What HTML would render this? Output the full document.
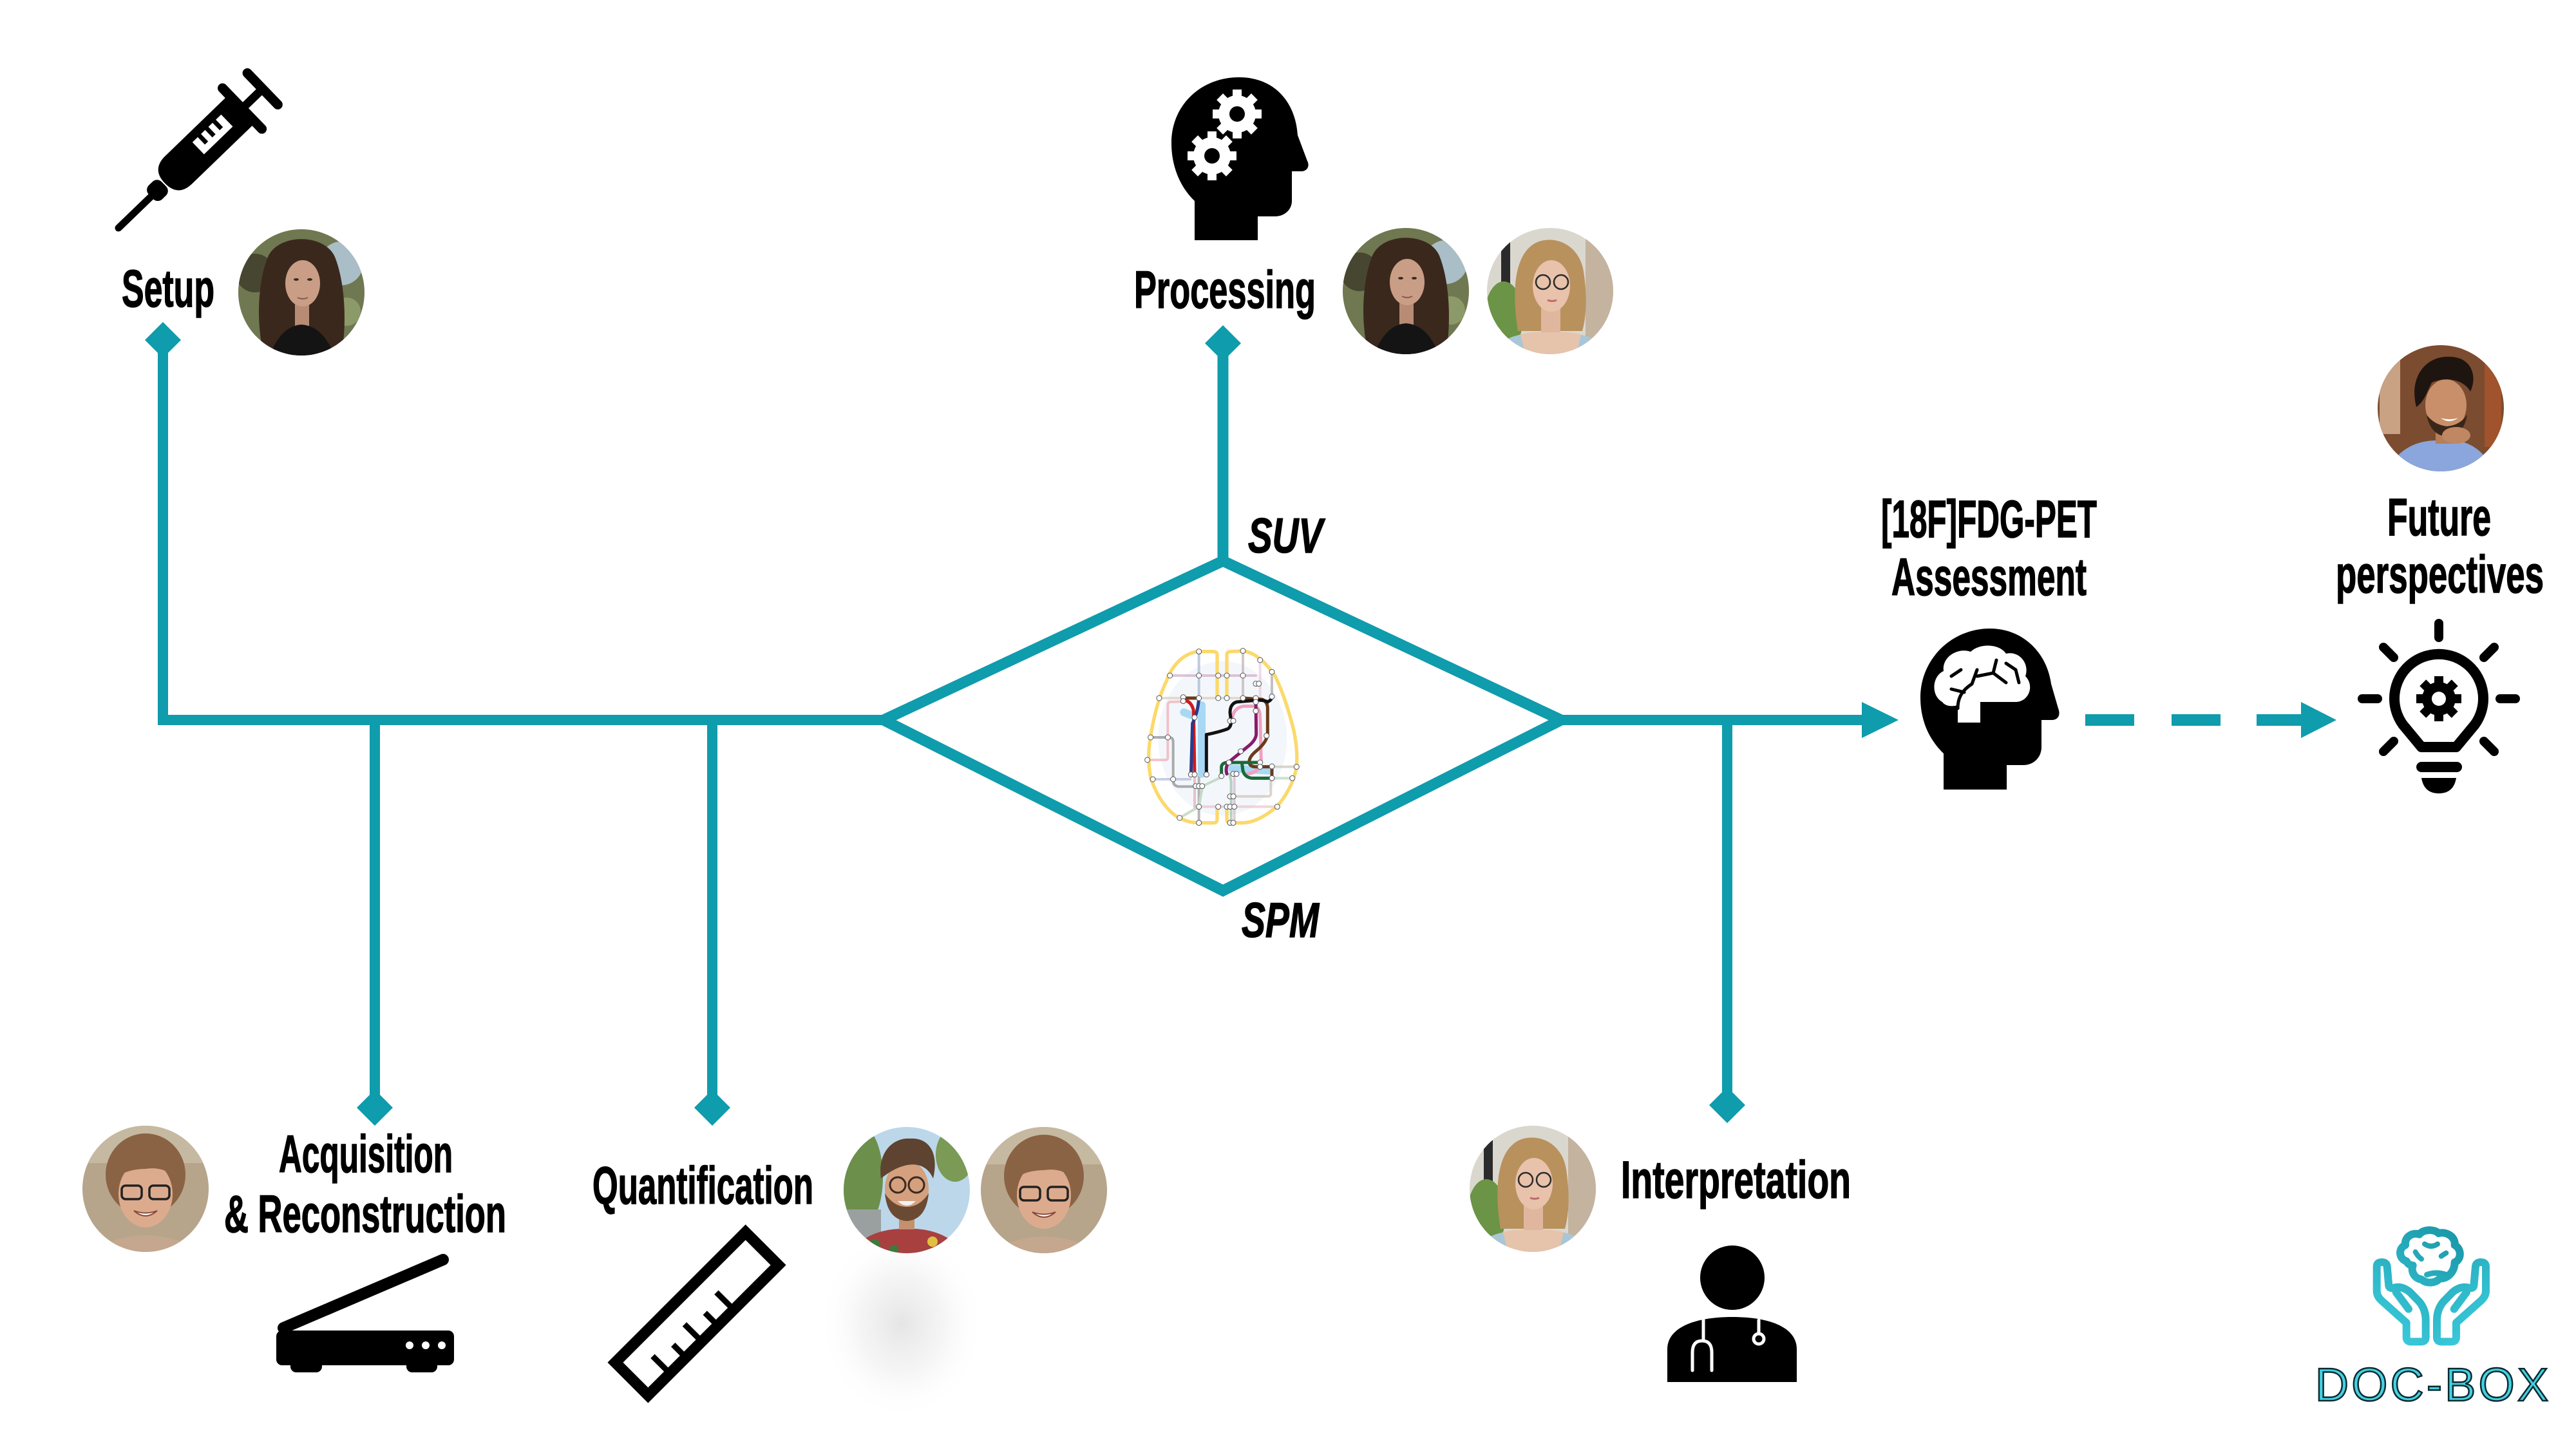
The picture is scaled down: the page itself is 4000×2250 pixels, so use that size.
<!DOCTYPE html>
<html><head><meta charset="utf-8"><style>
html,body{margin:0;padding:0;background:#fff;}
svg{display:block;}
.lbl{font-family:"Liberation Sans Narrow","Liberation Sans",sans-serif;font-weight:bold;font-size:82px;fill:#000;stroke:#000;stroke-width:1.5px;}
.it{font-family:"Liberation Sans Narrow","Liberation Sans",sans-serif;font-weight:bold;font-style:italic;font-size:76px;fill:#000;stroke:#000;stroke-width:1.5px;}
</style></head><body>
<svg width="4000" height="2250" viewBox="0 0 4000 2250" xmlns="http://www.w3.org/2000/svg">
<defs>
<clipPath id="cp"><circle cx="0" cy="0" r="98"/></clipPath>
<radialGradient id="shadow" cx="0.5" cy="0.5" r="0.5">
<stop offset="0" stop-color="#e2e2e2" stop-opacity="0.9"/>
<stop offset="0.5" stop-color="#eeeeee" stop-opacity="0.6"/>
<stop offset="1" stop-color="#ffffff" stop-opacity="0"/>
</radialGradient>
<linearGradient id="tealg" gradientUnits="userSpaceOnUse" x1="900" y1="150" x2="450" y2="720">
<stop offset="0" stop-color="#148f9f"/>
<stop offset="1" stop-color="#3dcfe0"/>
</linearGradient>

<g id="faceA"><g clip-path="url(#cp)">
<rect x="-100" y="-100" width="200" height="200" fill="#6f7850"/>
<circle cx="62" cy="-45" r="34" fill="#a9bec6"/>
<circle cx="-72" cy="-30" r="30" fill="#474631"/>
<circle cx="70" cy="30" r="22" fill="#8c9a6a"/>
<path d="M-58,100 C-72,40 -66,-20 -52,-55 C-36,-92 36,-92 52,-55 C66,-20 72,40 62,100 Z" fill="#3a281d"/>
<rect x="-10" y="18" width="22" height="40" fill="#b88b74"/>
<ellipse cx="2" cy="-14" rx="27" ry="36" fill="#c99d86"/>
<ellipse cx="-8" cy="-20" rx="4" ry="2" fill="#3a2a20"/>
<ellipse cx="13" cy="-20" rx="4" ry="2" fill="#3a2a20"/>
<path d="M-6,8 Q2,12 10,8" stroke="#8a5a4a" stroke-width="2" fill="none"/>
<path d="M-50,100 Q-32,52 0,50 Q34,52 52,100 Z" fill="#141414"/>
</g></g>

<g id="faceB"><g clip-path="url(#cp)">
<rect x="-100" y="-100" width="200" height="200" fill="#dad7ce"/>
<rect x="55" y="-100" width="50" height="200" fill="#c4b39e"/>
<rect x="-76" y="-80" width="14" height="180" fill="#2b2b2b"/>
<ellipse cx="-72" cy="40" rx="30" ry="55" fill="#6b9446"/>
<path d="M-50,62 C-60,0 -56,-60 -20,-76 C10,-88 46,-70 52,-30 C58,10 56,40 50,62 Z" fill="#b8915d"/>
<rect x="-14" y="22" width="30" height="50" fill="#e0b79e"/>
<ellipse cx="2" cy="-8" rx="29" ry="40" fill="#e8c2aa"/>
<path d="M-95,100 Q-62,62 -16,64 L18,64 Q62,62 95,100 Z" fill="#e6c3ab"/>
<path d="M-95,100 Q-75,72 -46,68 L-38,100 Z" fill="#a9c6d6"/>
<path d="M95,100 Q75,72 48,68 L40,100 Z" fill="#a9c6d6"/>
<circle cx="-11" cy="-14" r="11" fill="none" stroke="#2a2a2a" stroke-width="2.5"/>
<circle cx="17" cy="-14" r="11" fill="none" stroke="#2a2a2a" stroke-width="2.5"/>
<path d="M-4,14 Q3,17 10,14" stroke="#c06a6a" stroke-width="3" fill="none"/>
</g></g>

<g id="faceC"><g clip-path="url(#cp)">
<rect x="-100" y="-100" width="200" height="200" fill="#7b4c30"/>
<rect x="-95" y="-80" width="32" height="120" fill="#c9a283"/>
<rect x="68" y="-90" width="26" height="150" fill="#a0532c"/>
<path d="M-85,100 Q-62,52 -10,50 L22,50 Q62,54 85,100 Z" fill="#8aa6dc"/>
<rect x="-8" y="25" width="30" height="30" fill="#b57e5c"/>
<ellipse cx="8" cy="-5" rx="32" ry="40" fill="#c88f6a"/>
<path d="M-38,-2 C-50,-50 -22,-82 14,-80 C46,-80 58,-52 46,-26 C36,-44 10,-50 -14,-40 C-22,-24 -26,-10 -38,-2 Z" fill="#1e1510"/>
<path d="M-22,10 Q-16,42 10,44 Q36,42 41,10 Q30,26 10,28 Q-10,26 -22,10 Z" fill="#3a2618"/>
<path d="M0,15 Q13,25 27,15 Q13,19 0,15 Z" fill="#fff"/>
<ellipse cx="24" cy="42" rx="22" ry="13" fill="#c08763"/>
</g></g>

<g id="faceD"><g clip-path="url(#cp)">
<rect x="-100" y="-100" width="200" height="200" fill="#b6a58b"/>
<rect x="-100" y="-100" width="200" height="60" fill="#c6b9a1"/>
<ellipse cx="0" cy="-22" rx="62" ry="64" fill="#8a6344"/>
<path d="M-95,100 Q-52,74 0,72 Q52,74 95,100 Z" fill="#c4a78e"/>
<ellipse cx="0" cy="8" rx="42" ry="52" fill="#dcab8d"/>
<path d="M-46,-18 Q-32,-56 5,-56 Q42,-56 49,-14 Q30,-36 0,-31 Q-26,-31 -46,-18 Z" fill="#8a6344"/>
<rect x="-37" y="-5" width="31" height="21" rx="6" fill="none" stroke="#222" stroke-width="3.5"/>
<rect x="6" y="-5" width="31" height="21" rx="6" fill="none" stroke="#222" stroke-width="3.5"/>
<path d="M-18,34 Q0,50 18,34 Q0,41 -18,34 Z" fill="#fff" stroke="#8a4a3a" stroke-width="2"/>
</g></g>

<g id="faceE"><g clip-path="url(#cp)">
<rect x="-100" y="-100" width="200" height="200" fill="#bcd7ea"/>
<ellipse cx="-72" cy="-20" rx="35" ry="80" fill="#6c8f4b"/>
<ellipse cx="75" cy="-55" rx="30" ry="42" fill="#7a9a55"/>
<rect x="-100" y="30" width="60" height="70" fill="#9aa0a0"/>
<path d="M-92,100 Q-60,58 0,60 Q60,58 92,100 Z" fill="#a84040"/>
<circle cx="-50" cy="85" r="9" fill="#3e7a3a"/><circle cx="40" cy="80" r="8" fill="#e0c040"/><circle cx="-20" cy="92" r="7" fill="#3e7a3a"/><circle cx="60" cy="92" r="8" fill="#2e6a8a"/>
<rect x="-12" y="25" width="24" height="36" fill="#c4906e"/>
<ellipse cx="0" cy="-2" rx="34" ry="44" fill="#d4a07e"/>
<path d="M-40,-18 C-46,-60 -20,-82 5,-80 C36,-82 50,-56 41,-18 C30,-44 0,-50 -40,-18 Z" fill="#5e4330"/>
<path d="M-34,5 Q-30,46 0,48 Q30,46 34,5 Q20,26 0,26 Q-20,26 -34,5 Z" fill="#6b4a33"/>
<path d="M-14,17 Q0,31 14,17 Z" fill="#f2f2f2"/>
<circle cx="-14" cy="-8" r="12" fill="none" stroke="#3a2a20" stroke-width="3"/>
<circle cx="15" cy="-8" r="12" fill="none" stroke="#3a2a20" stroke-width="3"/>
</g></g>

<g id="gearW" fill="#fff">
<circle r="29"/>
<g><rect x="-7" y="-38" width="14" height="14"/><rect x="-7" y="-38" width="14" height="14" transform="rotate(45)"/><rect x="-7" y="-38" width="14" height="14" transform="rotate(90)"/><rect x="-7" y="-38" width="14" height="14" transform="rotate(135)"/><rect x="-7" y="-38" width="14" height="14" transform="rotate(180)"/><rect x="-7" y="-38" width="14" height="14" transform="rotate(225)"/><rect x="-7" y="-38" width="14" height="14" transform="rotate(270)"/><rect x="-7" y="-38" width="14" height="14" transform="rotate(315)"/></g>
<circle r="12" fill="#000"/>
</g>
<g id="gearB" fill="#000">
<circle r="26"/>
<g><rect x="-7" y="-35" width="14" height="13"/><rect x="-7" y="-35" width="14" height="13" transform="rotate(45)"/><rect x="-7" y="-35" width="14" height="13" transform="rotate(90)"/><rect x="-7" y="-35" width="14" height="13" transform="rotate(135)"/><rect x="-7" y="-35" width="14" height="13" transform="rotate(180)"/><rect x="-7" y="-35" width="14" height="13" transform="rotate(225)"/><rect x="-7" y="-35" width="14" height="13" transform="rotate(270)"/><rect x="-7" y="-35" width="14" height="13" transform="rotate(315)"/></g>
<circle r="11" fill="#fff"/>
</g>
</defs>

<rect width="4000" height="2250" fill="#fff"/>

<ellipse cx="1400" cy="2055" rx="130" ry="150" fill="url(#shadow)"/>

<g stroke="#0f9cac" fill="none" stroke-linejoin="miter">
<path d="M253,528 L253,1118 L1372,1118" stroke-width="16"/>
<line x1="582" y1="1118" x2="582" y2="1718" stroke-width="16"/>
<line x1="1106" y1="1118" x2="1106" y2="1718" stroke-width="16"/>
<line x1="1899" y1="533" x2="1899" y2="871" stroke-width="17"/>
<line x1="2424" y1="1118" x2="2896" y2="1118" stroke-width="16"/>
<line x1="2682" y1="1118" x2="2682" y2="1716" stroke-width="16"/>
<polygon points="1899,871 2424,1118 1899,1383 1372,1118" stroke-width="17"/>
<line x1="3238" y1="1118" x2="3314" y2="1118" stroke-width="18"/>
<line x1="3372" y1="1118" x2="3448" y2="1118" stroke-width="18"/>
<line x1="3504" y1="1118" x2="3578" y2="1118" stroke-width="18"/>
</g>
<g fill="#0f9cac">
<polygon points="2891,1090 2948,1118 2891,1146"/>
<polygon points="3573,1090 3628,1118 3573,1146"/>
<polygon points="253,500 281,528 253,556 225,528"/>
<polygon points="1899,505 1927,533 1899,561 1871,533"/>
<polygon points="582,1692 610,1720 582,1748 554,1720"/>
<polygon points="1106,1692 1134,1720 1106,1748 1078,1720"/>
<polygon points="2682,1688 2710,1716 2682,1744 2654,1716"/>
</g>

<g transform="translate(1750,980) scale(0.33333)" fill="none" stroke-linecap="round" stroke-linejoin="round">
<ellipse cx="445" cy="500" rx="300" ry="360" fill="#f3f7fb" stroke="none"/>
<g stroke-width="12" opacity="0.6">
<path d="M200,207 L600,207" stroke="#c8a0c0"/>
<path d="M335,95 L335,310" stroke="#9aa8c8"/>
<path d="M540,92 L540,310" stroke="#b8a8a0"/>
<path d="M620,135 L620,320" stroke="#f0c0d8"/>
<path d="M675,190 L675,300" stroke="#999"/>
<path d="M150,312 L260,312" stroke="#d8c8b8"/>
<path d="M335,312 L540,312" stroke="#d8c8b8" stroke-dasharray="4 4"/>
<path d="M262,328 L200,330 Q190,332 190,345 L190,590 Q190,600 178,600 L95,600" stroke="#f0a0a8"/>
<path d="M110,495 L195,495 Q215,495 215,515 L215,700 Q218,722 240,724 L330,724" stroke="#777"/>
<path d="M120,690 L295,690" stroke="#a8b0d0"/>
<path d="M315,668 L315,820" stroke="#e0a0a8"/>
<path d="M335,680 L335,893" stroke="#888"/>
<path d="M245,870 L335,818 L352,722 L440,680" stroke="#a8c8a8"/>
<path d="M335,818 L700,818" stroke="#e8b8c0"/>
<path d="M480,770 L655,770 Q670,770 670,755 L670,700" stroke="#c8b8a8"/>
<path d="M478,665 L485,700 L485,893" stroke="#88b898"/>
<path d="M500,665 L500,893" stroke="#d8a8c0"/>
<path d="M675,632 L790,632" stroke="#c8b8a8"/>
<path d="M675,685 L770,685" stroke="#a8d0b0"/>
</g>
<g stroke="#fbd96b" stroke-width="16">
<path d="M420,310 L420,110 Q420,95 400,95 L335,95 C260,100 205,170 185,230 C150,300 130,380 115,460 C100,540 95,600 110,680 C140,780 200,850 245,870 C280,890 310,893 335,893 L405,893 Q420,893 420,875 L420,820"/>
<path d="M465,310 L465,110 Q465,95 485,95 L540,92 C600,100 650,150 690,210 C720,270 740,330 760,400 C785,480 795,560 790,630 C780,700 740,770 700,815 C650,860 590,893 540,893 L480,893 Q465,893 465,875 L465,820"/>
</g>
<g stroke="#a8d8f4" stroke-width="36">
<path d="M348,345 L348,665"/>
<path d="M265,378 L300,392"/>
<path d="M490,640 L665,650"/>
</g>
<g stroke-width="15">
<path d="M490,420 Q490,360 540,350 L590,350 Q620,355 620,400 L625,600 Q620,660 560,665" stroke="#f0a0c0"/>
<path d="M260,312 L335,312 M540,312 L630,318 Q655,330 655,360 L655,480 Q650,520 600,560 Q565,590 570,615 Q575,632 600,632 L675,632 L675,685" stroke="#6b3a1a"/>
<path d="M370,668 L370,482 M485,418 L480,380 Q480,340 510,330 L600,322 Q640,320 655,330 Q675,320 675,305" stroke="#111"/>
<path d="M370,482 Q430,470 470,455 Q485,445 485,420" stroke="#111" stroke-dasharray="5 4"/>
<path d="M265,322 Q300,325 310,370 L315,668" stroke="#d01a1a"/>
<path d="M335,312 Q330,380 305,430 L298,668" stroke="#2a3a8a"/>
<path d="M600,320 L602,480 Q600,510 560,540 L480,605 Q455,630 465,665" stroke="#8a1a6a"/>
<path d="M440,680 L440,630 Q445,612 470,612 L620,612 M535,612 L540,650 Q548,680 580,685 L675,685" stroke="#1a6a3a"/>
</g>
<g fill="#fff" stroke="#555" stroke-width="3">
<circle cx="335" cy="95" r="12"/><circle cx="540" cy="92" r="12"/><circle cx="620" cy="135" r="12"/><circle cx="675" cy="190" r="12"/><circle cx="200" cy="207" r="12"/><circle cx="335" cy="207" r="12"/><circle cx="425" cy="207" r="12"/><circle cx="465" cy="207" r="12"/><circle cx="540" cy="207" r="12"/><circle cx="600" cy="245" r="12"/><circle cx="614" cy="245" r="12"/><circle cx="150" cy="312" r="12"/><circle cx="262" cy="308" r="12"/><circle cx="262" cy="326" r="12"/><circle cx="335" cy="312" r="12"/><circle cx="425" cy="312" r="12"/><circle cx="465" cy="312" r="12"/><circle cx="540" cy="312" r="12"/><circle cx="600" cy="312" r="12"/><circle cx="600" cy="330" r="12"/><circle cx="675" cy="305" r="12"/><circle cx="315" cy="402" r="12"/><circle cx="600" cy="372" r="12"/><circle cx="480" cy="418" r="12"/><circle cx="495" cy="418" r="12"/><circle cx="650" cy="487" r="12"/><circle cx="530" cy="560" r="12"/><circle cx="475" cy="612" r="12"/><circle cx="620" cy="612" r="12"/><circle cx="620" cy="632" r="12"/><circle cx="675" cy="630" r="12"/><circle cx="790" cy="632" r="12"/><circle cx="110" cy="495" r="12"/><circle cx="190" cy="495" r="12"/><circle cx="95" cy="600" r="12"/><circle cx="120" cy="690" r="12"/><circle cx="215" cy="690" r="12"/><circle cx="298" cy="668" r="12"/><circle cx="315" cy="668" r="12"/><circle cx="370" cy="668" r="12"/><circle cx="440" cy="675" r="12"/><circle cx="495" cy="665" r="12"/><circle cx="510" cy="665" r="12"/><circle cx="675" cy="685" r="12"/><circle cx="770" cy="685" r="12"/><circle cx="320" cy="722" r="12"/><circle cx="335" cy="722" r="12"/><circle cx="350" cy="722" r="12"/><circle cx="480" cy="770" r="12"/><circle cx="495" cy="770" r="12"/><circle cx="335" cy="818" r="12"/><circle cx="425" cy="818" r="12"/><circle cx="465" cy="818" r="12"/><circle cx="480" cy="818" r="12"/><circle cx="500" cy="818" r="12"/><circle cx="700" cy="818" r="12"/><circle cx="245" cy="870" r="12"/><circle cx="335" cy="893" r="12"/><circle cx="480" cy="893" r="12"/><circle cx="495" cy="893" r="12"/>
</g>
</g>

<g transform="translate(184,354) rotate(-44)">
<line x1="0" y1="0" x2="82" y2="0" stroke="#000" stroke-width="11" stroke-linecap="round"/>
<rect x="70" y="-15" width="28" height="30" rx="10" fill="#000"/>
<path d="M100,0 Q100,-30 130,-30 L262,-30 L262,30 L130,30 Q100,30 100,0 Z" fill="#000"/>
<rect x="175" y="-16" width="62" height="26" fill="#fff"/>
<g stroke="#000" stroke-width="7"><line x1="190" y1="-18" x2="190" y2="0"/><line x1="206" y1="-18" x2="206" y2="0"/><line x1="222" y1="-18" x2="222" y2="0"/></g>
<line x1="267" y1="-44" x2="267" y2="44" stroke="#000" stroke-width="15" stroke-linecap="round"/>
<line x1="267" y1="0" x2="311" y2="0" stroke="#000" stroke-width="13"/>
<line x1="311" y1="-34" x2="311" y2="34" stroke="#000" stroke-width="15" stroke-linecap="round"/>
</g>

<path d="M1855,373 L1855,312 C1832,290 1819,258 1819,222 C1819,163 1865,120 1924,120 C1980,120 2012,160 2015,210 L2030,250 C2034,258 2030,265 2022,266 L2006,266 L2006,312 C2006,326 1994,336 1980,336 L1953,336 L1953,373 Z" fill="#000"/>
<use href="#gearW" transform="translate(1921,177)"/>
<use href="#gearW" transform="translate(1882,242)"/>

<path d="M3018,1226 L3018,1170 C2995,1148 2982,1118 2982,1083 C2982,1024 3030,976 3090,976 C3140,976 3178,1012 3185,1062 L3196,1100 C3200,1110 3196,1118 3186,1118 L3170,1118 L3170,1160 C3170,1176 3158,1188 3142,1188 L3116,1188 L3116,1226 Z" fill="#000"/>
<path d="M3016,1090 C2998,1080 3000,1050 3018,1042 C3015,1020 3040,1005 3060,1012 C3075,998 3105,1000 3115,1015 C3135,1010 3152,1030 3145,1050 C3160,1065 3150,1090 3130,1090 L3075,1090 L3075,1122 L3040,1122 L3040,1095 C3030,1098 3020,1096 3016,1090 Z" fill="#fff"/>
<g stroke="#000" stroke-width="5" fill="none" stroke-linecap="round">
<path d="M3040,1100 C3040,1080 3050,1070 3062,1062 M3050,1075 L3030,1070 M3062,1062 L3070,1040 M3070,1050 L3095,1045 L3115,1060 M3095,1045 L3100,1025 M3030,1050 L3045,1040 M3115,1030 L3130,1040 L3135,1060"/>
</g>

<g stroke="#000" stroke-linecap="round" fill="none">
<path d="M3760,1160 L3731,1125 A69 69 0 1 1 3843,1125 L3814,1160 Z" stroke-width="16" stroke-linejoin="round"/>
<g stroke-width="14">
<line x1="3787" y1="968" x2="3787" y2="990"/>
<line x1="3668" y1="1085" x2="3692" y2="1085"/>
<line x1="3882" y1="1085" x2="3906" y2="1085"/>
<line x1="3701" y1="1005" x2="3717" y2="1021"/>
<line x1="3873" y1="1005" x2="3857" y2="1021"/>
<line x1="3701" y1="1167" x2="3717" y2="1151"/>
<line x1="3873" y1="1167" x2="3857" y2="1151"/>
</g>
</g>
<rect x="3752" y="1183" width="71" height="16" rx="8" fill="#000"/>
<path d="M3760,1208 L3814,1208 Q3810,1232 3787,1232 Q3764,1232 3760,1208 Z" fill="#000"/>
<use href="#gearB" transform="translate(3787,1085)"/>

<line x1="440" y1="2062" x2="688" y2="1956" stroke="#000" stroke-width="18" stroke-linecap="round"/>
<rect x="429" y="2066" width="276" height="54" rx="9" fill="#000"/>
<rect x="451" y="2108" width="49" height="23" rx="9" fill="#000"/>
<rect x="631" y="2108" width="48" height="23" rx="9" fill="#000"/>
<circle cx="636" cy="2089" r="6" fill="#fff"/><circle cx="661" cy="2089" r="6" fill="#fff"/><circle cx="686" cy="2089" r="6" fill="#fff"/>

<g transform="translate(1082,2040) rotate(-45)">
<rect x="-143" y="-36" width="286" height="72" fill="none" stroke="#000" stroke-width="17"/>
<g stroke="#000" stroke-width="9">
<line x1="-95" y1="28" x2="-95" y2="-2"/><line x1="-60" y1="28" x2="-60" y2="8"/><line x1="-25" y1="28" x2="-25" y2="-2"/><line x1="10" y1="28" x2="10" y2="8"/><line x1="45" y1="28" x2="45" y2="-2"/>
</g>
</g>

<ellipse cx="2690" cy="1984" rx="50" ry="50" fill="#000"/>
<path d="M2589,2146 L2589,2095 C2589,2062 2630,2045 2690,2045 C2750,2045 2790,2062 2790,2095 L2790,2146 Z" fill="#000"/>
<g stroke="#fff" stroke-width="5" fill="none" stroke-linecap="round">
<path d="M2645,2050 L2645,2082 M2628,2128 L2628,2100 Q2628,2082 2643,2082 Q2658,2082 2658,2100 L2658,2128"/>
<path d="M2731,2050 L2731,2070"/>
<circle cx="2731" cy="2079" r="8"/>
</g>

<use href="#faceA" transform="translate(468,454)"/>
<use href="#faceA" transform="translate(2183,452)"/>
<use href="#faceB" transform="translate(2407,452)"/>
<use href="#faceC" transform="translate(3790,634)"/>
<use href="#faceD" transform="translate(226,1846)"/>
<use href="#faceE" transform="translate(1408,1848)"/>
<use href="#faceD" transform="translate(1621,1848)"/>
<use href="#faceB" transform="translate(2380,1846)"/>

<text class="lbl" x="189" y="476" textLength="144" lengthAdjust="spacingAndGlyphs">Setup</text>
<text class="lbl" x="1761" y="478" textLength="282" lengthAdjust="spacingAndGlyphs">Processing</text>
<text class="lbl" x="2921" y="834" textLength="335" lengthAdjust="spacingAndGlyphs">[18F]FDG-PET</text>
<text class="lbl" x="2937" y="924" textLength="303" lengthAdjust="spacingAndGlyphs">Assessment</text>
<text class="lbl" x="3707" y="831" textLength="161" lengthAdjust="spacingAndGlyphs">Future</text>
<text class="lbl" x="3627" y="920" textLength="323" lengthAdjust="spacingAndGlyphs">perspectives</text>
<text class="lbl" x="433" y="1820" textLength="270" lengthAdjust="spacingAndGlyphs">Acquisition</text>
<text class="lbl" x="348" y="1913" textLength="438" lengthAdjust="spacingAndGlyphs">&amp; Reconstruction</text>
<text class="lbl" x="920" y="1869" textLength="343" lengthAdjust="spacingAndGlyphs">Quantification</text>
<text class="lbl" x="2517" y="1860" textLength="357" lengthAdjust="spacingAndGlyphs">Interpretation</text>
<text class="it" x="1938" y="858" textLength="116" lengthAdjust="spacingAndGlyphs">SUV</text>
<text class="it" x="1928" y="1455" textLength="120" lengthAdjust="spacingAndGlyphs">SPM</text>

<g transform="translate(3550,1850) scale(0.33333)" fill="none" stroke="url(#tealg)" stroke-width="36" stroke-linecap="round" stroke-linejoin="round">
<path d="M560,325 C525,315 520,265 555,250 C550,210 590,190 620,200 C640,175 690,175 710,195 C750,185 790,215 785,250 C820,270 815,320 785,330 C785,375 750,410 715,405 C695,430 650,430 630,410 C595,405 580,370 590,345 C575,345 565,335 560,325 Z"/>
<path d="M655,388 Q700,372 745,388" stroke-width="26"/>
<path d="M645,245 Q675,265 705,245" stroke-width="24"/>
<path d="M602,282 Q612,302 630,315" stroke-width="24"/>
<path d="M722,302 Q735,292 745,287" stroke-width="24"/>
<path d="M422,350 Q422,330 445,330 Q468,330 470,350 L478,440 Q482,455 505,448 Q540,440 575,468 L618,512 Q650,548 650,600 L650,680 Q650,700 628,700 L583,700 Q560,700 560,680 L560,612 L448,512 Q422,490 422,465 Z"/>
<path d="M512,470 L570,548"/>
<g transform="matrix(-1,0,0,1,1352,0)">
<path d="M422,350 Q422,330 445,330 Q468,330 470,350 L478,440 Q482,455 505,448 Q540,440 575,468 L618,512 Q650,548 650,600 L650,680 Q650,700 628,700 L583,700 Q560,700 560,680 L560,612 L448,512 Q422,490 422,465 Z"/>
<path d="M512,470 L570,548"/>
</g>
</g>
<text x="3595" y="2175" font-family="Liberation Sans, sans-serif" font-size="72" fill="#45d1e2" stroke="#0b2b30" stroke-width="2.5" textLength="362">DOC-BOX</text>
</svg>
</body></html>
